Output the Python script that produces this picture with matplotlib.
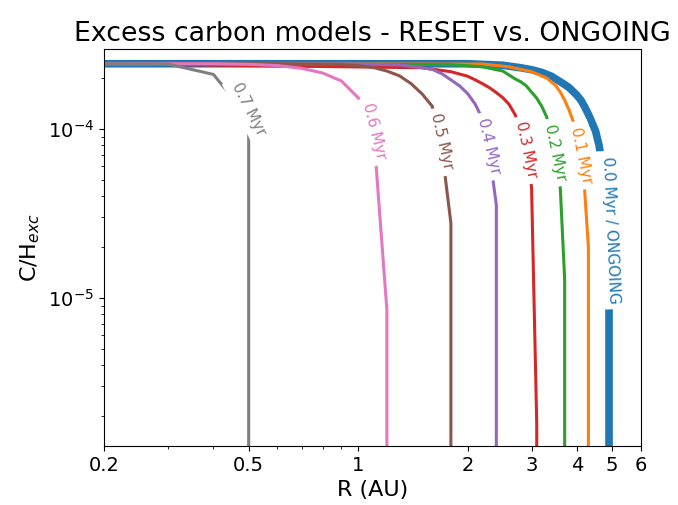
import matplotlib
matplotlib.use("Agg")
import matplotlib.pyplot as plt

# excess carbon vs radius, one curve per reset age
# last point of each curve drops to ~0 -> vertical cut on the log axis
r_00 = [0.2, 2.0, 2.5, 2.8, 3.0, 3.2, 3.4, 3.6, 3.8, 4.0, 4.1, 4.2, 4.3, 4.4, 4.5, 4.6, 4.7, 4.8, 4.9, 4.9]
ch_00 = [2.43e-4, 2.43e-4, 2.38e-4, 2.30e-4, 2.24e-4, 2.16e-4, 2.05e-4, 1.90e-4, 1.76e-4, 1.58e-4,
         1.48e-4, 1.35e-4, 1.22e-4, 1.09e-4, 0.97e-4, 0.80e-4, 0.60e-4, 0.37e-4, 1.0e-5, 1e-9]

r_01 = [0.2, 2.2, 2.6, 3.0, 3.3, 3.5, 3.6, 3.7, 3.8, 3.9, 4.0, 4.1, 4.2, 4.3, 4.3]
ch_01 = [2.43e-4, 2.42e-4, 2.33e-4, 2.18e-4, 2.0e-4, 1.8e-4, 1.65e-4, 1.48e-4, 1.3e-4, 1.12e-4,
         0.9e-4, 0.66e-4, 0.43e-4, 2.0e-5, 1e-9]

r_02 = [0.2, 1.8, 2.2, 2.5, 2.7, 2.8, 2.9, 3.0, 3.1, 3.2, 3.3, 3.4, 3.5, 3.6, 3.7, 3.7]
ch_02 = [2.43e-4, 2.40e-4, 2.33e-4, 2.2e-4, 1.98e-4, 1.9e-4, 1.8e-4, 1.65e-4, 1.52e-4, 1.36e-4,
         1.18e-4, 0.93e-4, 0.67e-4, 0.44e-4, 1.28e-5, 1e-9]

r_03 = [0.2, 1.5, 1.8, 2.0, 2.1, 2.2, 2.3, 2.4, 2.5, 2.6, 2.7, 2.8, 2.9, 3.0, 3.1, 3.1]
ch_03 = [2.43e-4, 2.30e-4, 2.18e-4, 2.05e-4, 1.95e-4, 1.85e-4, 1.75e-4, 1.64e-4, 1.53e-4, 1.40e-4,
         1.22e-4, 1.0e-4, 0.75e-4, 0.45e-4, 1.8e-6, 1e-9]

r_04 = [0.2, 1.0, 1.3, 1.5, 1.6, 1.7, 1.8, 1.9, 2.0, 2.1, 2.2, 2.3, 2.4, 2.4]
ch_04 = [2.43e-4, 2.42e-4, 2.39e-4, 2.30e-4, 2.25e-4, 2.12e-4, 1.95e-4, 1.80e-4, 1.62e-4, 1.40e-4,
         1.14e-4, 0.70e-4, 0.355e-4, 1e-9]

r_05 = [0.2, 0.6, 0.9, 1.0, 1.1, 1.2, 1.3, 1.4, 1.5, 1.6, 1.7, 1.8, 1.8]
ch_05 = [2.43e-4, 2.43e-4, 2.40e-4, 2.37e-4, 2.31e-4, 2.2e-4, 2.06e-4, 1.85e-4, 1.61e-4, 1.36e-4,
         0.75e-4, 2.77e-5, 1e-9]

r_06 = [0.2, 0.4, 0.5, 0.6, 0.7, 0.8, 0.9, 1.0, 1.1, 1.2, 1.2]
ch_06 = [2.43e-4, 2.43e-4, 2.41e-4, 2.37e-4, 2.28e-4, 2.14e-4, 1.92e-4, 1.53e-4, 1.04e-4, 8.5e-6, 1e-9]

r_07 = [0.2, 0.3, 0.4, 0.5, 0.5]
ch_07 = [2.43e-4, 2.42e-4, 2.1e-4, 1.17e-4, 1e-9]

curves_r = [r_00, r_01, r_02, r_03, r_04, r_05, r_06, r_07]
curves_ch = [ch_00, ch_01, ch_02, ch_03, ch_04, ch_05, ch_06, ch_07]
labels = ["0.0 Myr / ONGOING", "0.1 Myr", "0.2 Myr", "0.3 Myr",
          "0.4 Myr", "0.5 Myr", "0.6 Myr", "0.7 Myr"]

# where the inline labels sit (R, C/H, angle)
lab_r = [4.95, 4.11, 3.48, 2.90, 2.29, 1.70, 1.106, 0.501]
lab_ch = [2.52e-5, 7.0e-5, 7.26e-5, 7.5e-5, 7.9e-5, 8.4e-5, 9.7e-5, 1.31e-4]
lab_rot = [-87.5, -78, -78, -78, -76.5, -77, -76, -63]

xticks = [0.2, 0.5, 1, 2, 3, 4, 5, 6]
xticklabels = ["0.2", "0.5", "1", "2", "3", "4", "5", "6"]

colors = plt.rcParams['axes.prop_cycle'].by_key()['color']

fig = plt.figure(figsize=(6.78, 5.05), dpi=100)
ax = fig.add_axes([104/678, 59/505, 537/678, 397/505])

for i in range(len(curves_r)):
    lw = 5.5 if i == 0 else 2.2
    ax.plot(curves_r[i], curves_ch[i], color=colors[i], lw=lw)

for i in range(len(labels)):
    ax.text(lab_r[i], lab_ch[i], labels[i], color=colors[i], fontsize=11,
            rotation=lab_rot[i], ha='center', va='center', rotation_mode='anchor',
            bbox=dict(facecolor='white', edgecolor='none'), zorder=5)

ax.set_xscale('log')
ax.set_yscale('log')
ax.set_xlim(0.2, 6)
ax.set_ylim(1.33e-6, 2.97e-4)
ax.set_xticks(xticks, xticklabels)
ax.tick_params(labelsize=14)
ax.set_xlabel("R (AU)", fontsize=16)
ax.set_ylabel("C/H$_{exc}$", fontsize=16)
ax.set_title("Excess carbon models - RESET vs. ONGOING", fontsize=19.3)

fig.savefig("out.png")
